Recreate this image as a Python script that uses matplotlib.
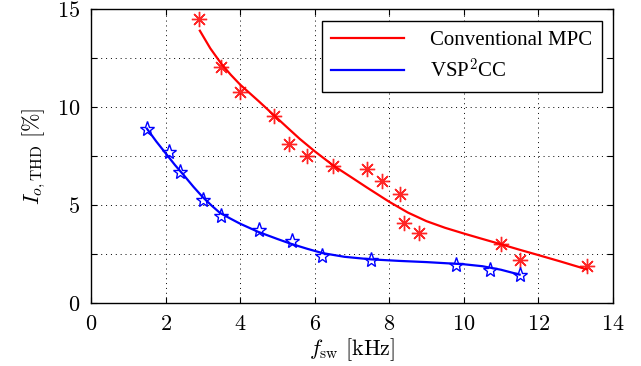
import matplotlib
matplotlib.use("Agg")
import matplotlib.pyplot as plt
from matplotlib.ticker import MultipleLocator, FuncFormatter

# Data: Conventional MPC measured points
mpc_fsw = [2.9, 3.5, 4.0, 4.9, 5.3, 5.8, 6.5, 7.4, 7.8, 8.3, 8.4, 8.8, 11.0, 11.5, 13.3]
mpc_thd = [14.5, 12.05, 10.75, 9.55, 8.1, 7.5, 7.0, 6.85, 6.25, 5.55, 4.1, 3.6, 3.0, 2.2, 1.9]
# Conventional MPC trend line
mpc_fit_x = [2.92, 3.2, 3.5, 3.75, 4.0, 4.5, 4.9, 5.3, 5.6, 6.0, 6.5, 7.0, 7.4, 8.0, 8.5,
             9.0, 9.5, 10.0, 10.45, 11.0, 11.5, 12.0, 12.6, 13.3]
mpc_fit_y = [13.9, 13.0, 12.2, 11.65, 11.15, 10.3, 9.6, 8.9, 8.38, 7.75, 7.02, 6.4, 5.9,
             5.17, 4.62, 4.18, 3.84, 3.55, 3.3, 3.0, 2.72, 2.45, 2.12, 1.72]

# VSP2CC measured points
vsp_fsw = [1.5, 2.1, 2.4, 3.0, 3.5, 4.5, 5.4, 6.2, 7.5, 9.8, 10.7, 11.5]
vsp_thd = [8.9, 7.7, 6.7, 5.25, 4.45, 3.75, 3.15, 2.42, 2.18, 1.96, 1.71, 1.45]
# VSP2CC trend line
vsp_fit_x = [1.5, 1.75, 2.0, 2.25, 2.5, 2.75, 3.0, 3.25, 3.46, 3.75, 4.0, 4.49, 5.0, 5.34,
             5.8, 6.21, 6.8, 7.51, 8.28, 9.0, 10.0, 10.5, 11.0, 11.5]
vsp_fit_y = [8.9, 8.25, 7.65, 7.05, 6.5, 5.93, 5.4, 4.95, 4.6, 4.3, 4.05, 3.63, 3.27, 3.04,
             2.77, 2.55, 2.36, 2.23, 2.15, 2.09, 1.98, 1.88, 1.7, 1.45]

plt.rcParams['mathtext.fontset'] = 'cm'
plt.rcParams['font.family'] = ['cmr10', 'DejaVu Serif']
plt.rcParams['axes.formatter.use_mathtext'] = True

fig = plt.figure(figsize=(6.41, 3.66), dpi=100)
ax = fig.add_axes([0.142, 0.172, 0.814, 0.803])

red = '#ff0000'
blue = '#0000ff'

ax.plot(mpc_fit_x, mpc_fit_y, color=red, lw=1.6, label='Conventional MPC', zorder=3,
        solid_joinstyle='round')
ax.plot(vsp_fit_x, vsp_fit_y, color=blue, lw=1.6, label='VSP$^2$CC', zorder=3,
        solid_joinstyle='round')
ax.plot(mpc_fsw, mpc_thd, linestyle='none', marker=(8, 2, 0), markersize=11,
        markeredgecolor=red, markeredgewidth=1.0, alpha=0.85, zorder=4)
ax.plot(vsp_fsw, vsp_thd, linestyle='none', marker='*', markersize=11,
        markerfacecolor='none', markeredgecolor=blue, markeredgewidth=1.0, zorder=4)

ax.set_xlim(0, 14)
ax.set_ylim(0, 15)
ax.xaxis.set_major_locator(MultipleLocator(2))
ax.yaxis.set_major_locator(MultipleLocator(2.5))


def yfmt(v, pos):
    if abs(v / 5 - round(v / 5)) < 1e-6:
        return f"${int(round(v))}$"
    return ""


ax.yaxis.set_major_formatter(FuncFormatter(yfmt))
ax.xaxis.set_major_formatter(FuncFormatter(lambda v, p: f"${int(round(v))}$"))

ax.tick_params(direction='in', top=True, right=True, length=4, width=0.8,
               labelsize=16, pad=8)
ax.grid(True, color='black', linestyle=(0, (1, 4)), linewidth=0.7)
for s in ax.spines.values():
    s.set_linewidth(1.0)

ax.set_xlabel(r'$f_{\mathrm{sw}}\ \mathrm{[kHz]}$', fontsize=16, labelpad=2)
ax.set_ylabel(r'$I_{o,\mathrm{THD}}\ [\%]$', fontsize=16, labelpad=6)

leg = ax.legend(loc='upper right', bbox_to_anchor=(0.979, 0.96), borderaxespad=0,
                fancybox=False, edgecolor='black', framealpha=1, handlelength=3.5,
                prop={'family': 'Liberation Serif', 'size': 15}, borderpad=0.45,
                handletextpad=1.25, labelspacing=0.4)
leg.get_frame().set_linewidth(1.0)

fig.savefig('out.png', dpi=100)
